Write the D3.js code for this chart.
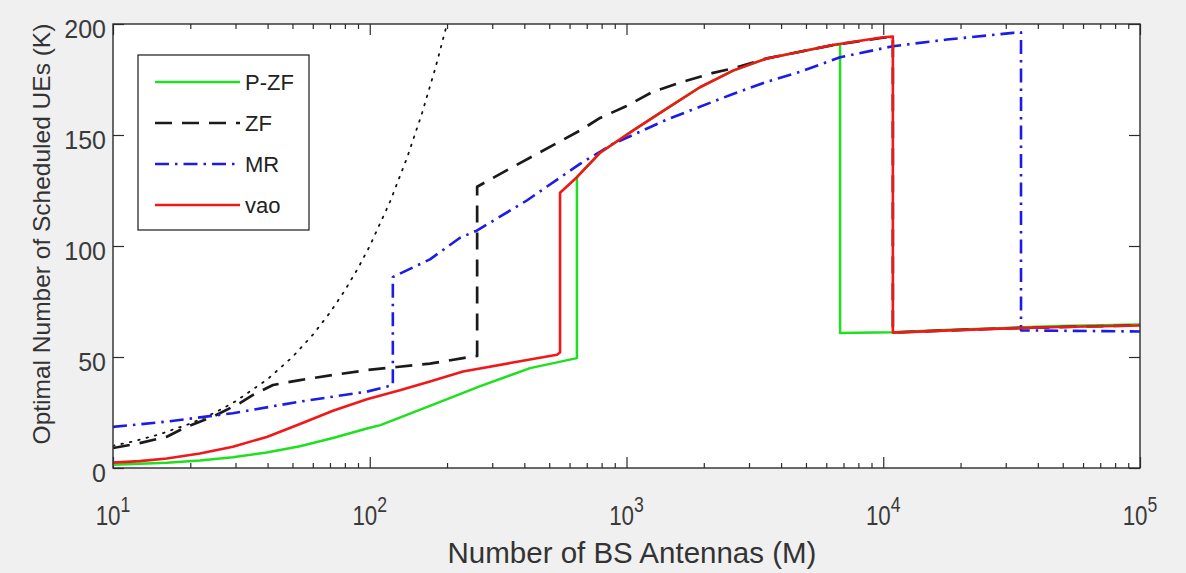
<!DOCTYPE html>
<html>
<head>
<meta charset="utf-8">
<script src="https://cdn.jsdelivr.net/npm/d3@7"></script>
<style>
  html, body { margin: 0; padding: 0; background: #f0f0f0; }
  svg { display: block; font-family: "Liberation Sans", Arial, Helvetica, sans-serif; }
</style>
</head>
<body>
<svg id="chart" width="1186" height="573"></svg>
<script>
// ---- data: number of BS antennas M vs optimal number of scheduled UEs K ----
// Repeated M values mark the vertical jumps of each curve.
const pzfM = [10, 12.7, 16.2, 21.8, 29.3, 39.7, 53.5, 71.9, 97.5, 110, 171.6, 268, 421, 641,
              641, 789, 1059, 1439, 1932, 2600, 3524, 4742, 6370, 6790,
              6790, 10900, 18200, 28500, 48700, 100000];
const pzfK = [1.5, 1.9, 2.4, 3.4, 4.8, 7, 9.8, 13.5, 17.8, 19.3, 28, 36.8, 45, 49.5,
              131, 142, 152, 162, 171.5, 179, 184.5, 187.5, 190.5, 190.8,
              60.8, 61.2, 62.3, 63, 64, 64.6];

const zfM = [10, 12.7, 16.2, 19.4, 24.5, 31.2, 35.1, 42, 53.5, 71.9, 97.5, 127.6, 171.6, 230.8, 262,
             262, 361, 659, 789, 986, 1268, 1660, 2174, 2600, 3524, 4742, 6370, 9973, 10900,
             10900, 18200, 28500, 48700, 100000];
const zfK = [9, 11.2, 14.1, 18.6, 23.1, 29.2, 32.9, 37.4, 39.6, 41.9, 44.1, 45.5, 47, 49.5, 50.5,
             126.7, 135.6, 152, 157.7, 162.7, 169.5, 174, 178, 180, 184.5, 187.5, 190.5, 193.8, 194.3,
             61, 62, 62.8, 63.5, 64.2];

const mrM = [10, 16.2, 29.3, 53.5, 97.5, 123,
             123, 171.6, 224, 262, 409, 659, 885, 1059, 1439, 1932, 2600, 3524, 4742, 6790, 10900, 17700, 32000, 34400,
             34400, 50000, 100000];
const mrK = [18.5, 20.9, 24.7, 29.9, 34.4, 37.4,
             86, 94, 103.6, 107, 120.5, 137, 146, 150, 157, 162.7, 168.5, 174, 178.5, 185, 190, 193, 196, 196.3,
             62, 61.8, 61.5];

const vaoM = [10, 12.7, 16.2, 21.8, 29.3, 39.7, 53.5, 71.9, 97.5, 131, 171.6, 230.8, 361, 536, 551,
              551, 641, 789, 1059, 1439, 1932, 2600, 3524, 4742, 6370, 9973, 10900,
              10900, 18200, 28500, 48700, 100000];
const vaoK = [2.4, 3.1, 4.3, 6.5, 9.6, 14, 19.8, 25.8, 31, 35, 39, 43.5, 47.5, 51, 52,
              124, 131, 142, 152, 162, 171.5, 179, 184.5, 187.5, 190.5, 194, 194.3,
              61, 62, 62.8, 63.5, 64.2];

// reference line K = M
const refM = [10, 12, 15, 20, 25, 30, 40, 50, 60, 70, 80, 90, 100, 120, 140, 160, 180, 200];
const refK = [10, 12, 15, 20, 25, 30, 40, 50, 60, 70, 80, 90, 100, 120, 140, 160, 180, 200];

const xMajorTicks = [10, 100, 1000, 10000, 100000];
const xExponents = ["1", "2", "3", "4", "5"];
const yTicks = [0, 50, 100, 150, 200];
const legendLabels = ["P-ZF", "ZF", "MR", "vao"];

// ---- layout ----
const W = 1186, H = 573;
const plotL = 113, plotR = 1140, plotT = 24, plotB = 468;

const svg = d3.select("#chart");
svg.append("rect").attr("width", W).attr("height", H).attr("fill", "#f0f0f0");

const x = d3.scaleLog().domain([10, 1e5]).range([plotL, plotR]);
const y = d3.scaleLinear().domain([0, 200]).range([plotB, plotT]);

svg.append("rect")
  .attr("x", plotL).attr("y", plotT)
  .attr("width", plotR - plotL).attr("height", plotB - plotT)
  .attr("fill", "#ffffff");

svg.append("clipPath").attr("id", "plotClip")
  .append("rect")
  .attr("x", plotL).attr("y", plotT)
  .attr("width", plotR - plotL).attr("height", plotB - plotT);

// ---- ticks on all four sides (pointing inward) ----
const xMinorTicks = [];
for (let e = 1; e < 5; e++) {
  for (let m = 2; m <= 9; m++) xMinorTicks.push(m * Math.pow(10, e));
}
const axisColor = "#2b2b2b";

function styleAxis(g) {
  g.select(".domain").remove();
  g.selectAll(".tick line").attr("stroke", axisColor).attr("stroke-width", 1.2);
  g.selectAll(".tick text").remove();
}

svg.append("g").attr("transform", `translate(0,${plotB})`)
  .call(d3.axisBottom(x).tickValues(xMajorTicks).tickSize(-11).tickFormat(""))
  .call(styleAxis);
svg.append("g").attr("transform", `translate(0,${plotB})`)
  .call(d3.axisBottom(x).tickValues(xMinorTicks).tickSize(-5).tickFormat(""))
  .call(styleAxis);
svg.append("g").attr("transform", `translate(0,${plotT})`)
  .call(d3.axisTop(x).tickValues(xMajorTicks).tickSize(-11).tickFormat(""))
  .call(styleAxis);
svg.append("g").attr("transform", `translate(0,${plotT})`)
  .call(d3.axisTop(x).tickValues(xMinorTicks).tickSize(-5).tickFormat(""))
  .call(styleAxis);
svg.append("g").attr("transform", `translate(${plotL},0)`)
  .call(d3.axisLeft(y).tickValues(yTicks).tickSize(-11).tickFormat(""))
  .call(styleAxis);
svg.append("g").attr("transform", `translate(${plotR},0)`)
  .call(d3.axisRight(y).tickValues(yTicks).tickSize(-11).tickFormat(""))
  .call(styleAxis);

// ---- tick labels ----
const labelColor = "#3a3a3a";
svg.append("g").selectAll("text")
  .data(yTicks).join("text")
  .attr("x", plotL - 7)
  .attr("y", d => y(d) + 14)
  .attr("text-anchor", "end")
  .attr("font-size", 25)
  .attr("fill", labelColor)
  .text(d => d);

const xLab = svg.append("g").selectAll("g")
  .data(xMajorTicks).join("g")
  .attr("transform", d => `translate(${x(d)},525) scale(0.8,1)`);
const xText = xLab.append("text")
  .attr("text-anchor", "middle")
  .attr("fill", labelColor);
xText.append("tspan").attr("font-size", 28).text("10");
xText.append("tspan").attr("font-size", 22).attr("dy", -13)
  .text((d, i) => xExponents[i]);

// ---- axis titles ----
svg.append("text")
  .attr("x", 632).attr("y", 563)
  .attr("text-anchor", "middle")
  .attr("font-size", 29.5)
  .attr("fill", "#333")
  .text("Number of BS Antennas (M)");

svg.append("text")
  .attr("transform", "translate(50,234) rotate(-90)")
  .attr("text-anchor", "middle")
  .attr("font-size", 24.5)
  .attr("fill", "#333")
  .text("Optimal Number of Scheduled UEs (K)");

// ---- curves ----
const line = d3.line().x(d => x(d[0])).y(d => y(d[1]));
const plot = svg.append("g").attr("clip-path", "url(#plotClip)");

const series = [
  { name: "ref", M: refM, K: refK, color: "#111", width: 1.8, dash: "1.6,7", cap: "round" },
  { name: "P-ZF", M: pzfM, K: pzfK, color: "#1ee01e", width: 2.5, dash: null },
  { name: "ZF", M: zfM, K: zfK, color: "#1a1a1a", width: 2.7, dash: "17,10" },
  { name: "MR", M: mrM, K: mrK, color: "#1c1ce6", width: 2.6, dash: "14,6,2.5,6" },
  { name: "vao", M: vaoM, K: vaoK, color: "#f01818", width: 2.6, dash: null }
];

series.forEach(s => {
  plot.append("path")
    .datum(d3.zip(s.M, s.K))
    .attr("fill", "none")
    .attr("stroke", s.color)
    .attr("stroke-width", s.width)
    .attr("stroke-linejoin", "round")
    .attr("stroke-linecap", s.cap || "butt")
    .attr("stroke-dasharray", s.dash)
    .attr("d", line);
});

// ---- frame ----
svg.append("rect")
  .attr("x", plotL).attr("y", plotT)
  .attr("width", plotR - plotL).attr("height", plotB - plotT)
  .attr("fill", "none").attr("stroke", axisColor).attr("stroke-width", 1.4);

// ---- legend ----
const legend = svg.append("g");
legend.append("rect")
  .attr("x", 138).attr("y", 55).attr("width", 171).attr("height", 175)
  .attr("fill", "#ffffff").attr("stroke", "#2b2b2b").attr("stroke-width", 1.3);
const legendSeries = series.slice(1);
const rowY = d3.scalePoint().domain(legendLabels).range([82, 205]);
legendSeries.forEach((s, i) => {
  const ly = rowY(legendLabels[i]);
  legend.append("line")
    .attr("x1", 155).attr("x2", 240).attr("y1", ly).attr("y2", ly)
    .attr("stroke", s.color).attr("stroke-width", s.width)
    .attr("stroke-dasharray", s.dash);
  legend.append("text")
    .attr("x", 245).attr("y", ly + 8)
    .attr("font-size", 22)
    .attr("fill", "#222")
    .text(legendLabels[i]);
});
</script>
</body>
</html>
